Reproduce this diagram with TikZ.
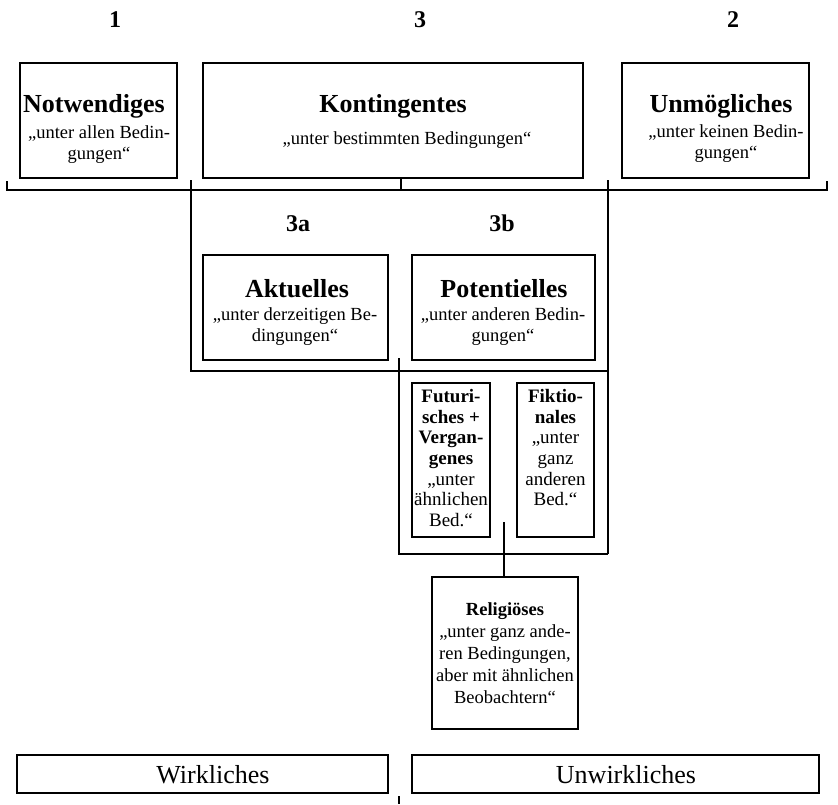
\documentclass[tikz,border=0pt]{standalone}
\usepackage{fontspec}
\setmainfont{Liberation Serif}
\begin{document}
\begin{tikzpicture}[x=1pt,y=-1pt,
  box/.style={draw,line width=1.2pt,inner sep=0pt},
  brk/.style={line width=1.5pt},
  ttl/.style={font=\bfseries\fontsize{26}{30}\selectfont,inner sep=0pt,anchor=base},
  num/.style={font=\bfseries\fontsize{24}{28}\selectfont,inner sep=0pt,anchor=base},
  sub/.style={font=\fontsize{18.5}{21}\selectfont,inner sep=0pt,align=center,anchor=north},
  sml/.style={font=\fontsize{19}{20.7}\selectfont,inner sep=0pt,align=center,anchor=north},
  big/.style={font=\fontsize{26}{30}\selectfont,inner sep=0pt,anchor=base}]
\useasboundingbox (0,0) rectangle (838,804);
% top labels
\node[num] (l1) at (115,27) {1};
\node[num] (l3) at (420,27) {3};
\node[num] (l2) at (733,27) {2};
% row 1
\node[box,minimum width=157pt,minimum height=115pt] (bNot) at (98.5,120.5) {};
\node[box,minimum width=380pt,minimum height=115pt] (bKon) at (393,120.5) {};
\node[box,minimum width=187pt,minimum height=115pt] (bUnm) at (715.5,120.5) {};
\node[ttl] (tNot) at (94,112) {Notwendiges};
\node[sub] (sNot) at (99,125) {„unter allen Bedin-\\gungen“};
\node[ttl] (tKon) at (393,112) {Kontingentes};
\node[sub] (sKon) at (407,131) {„unter bestimmten Bedingungen“};
\node[ttl] (tUnm) at (721,112) {Unmögliches};
\node[sub] (sUnm) at (726,124) {„unter keinen Bedin-\\gungen“};
% main bracket
\coordinate (mLt) at (7,181);
\coordinate (mLb) at (7,190);
\coordinate (mRb) at (827,190);
\coordinate (mRt) at (827,181);
\draw[brk] (mLt) -- (mLb) -- (mRb) -- (mRt);
\coordinate (kJ) at (401,190);
\draw[brk] (bKon.south -| kJ) -- (kJ);
% frame 3
\coordinate (f3tl) at (191,180);
\coordinate (f3bl) at (191,371);
\coordinate (f3br) at (608,371);
\coordinate (f3tr) at (608,180);
\coordinate (fStl) at (399,358);
\coordinate (fSbl) at (399,554);
\coordinate (fSbr) at (608,554);
\draw[brk] (f3tl) -- (f3bl) -- (f3br);
\draw[brk] (f3tr) -- (fSbr);
\draw[brk] (fStl) -- (fSbl) -- (fSbr);
% row 2
\node[num] (l3a) at (298,231) {3a};
\node[num] (l3b) at (502,231) {3b};
\node[box,minimum width=185pt,minimum height=105pt] (bAkt) at (295.5,307.5) {};
\node[box,minimum width=183pt,minimum height=105pt] (bPot) at (503.5,307.5) {};
\node[ttl] (tAkt) at (297,297) {Aktuelles};
\node[sub] (sAkt) at (295,307) {„unter derzeitigen Be-\\dingungen“};
\node[ttl] (tPot) at (504,297) {Potentielles};
\node[sub] (sPot) at (503,307) {„unter anderen Bedin-\\gungen“};
% row 3
\node[box,minimum width=78pt,minimum height=154pt] (bFut) at (451,460) {};
\node[box,minimum width=77pt,minimum height=154pt] (bFik) at (555.5,460) {};
\node[sml] (tFut) at (451,389) {\textbf{Futuri-}\\\textbf{sches +}\\\textbf{Vergan-}\\\textbf{genes}\\„unter\\ähnlichen\\Bed.“};
\node[sml] (tFik) at (555.5,389) {\textbf{Fiktio-}\\\textbf{nales}\\„unter\\ganz\\anderen\\Bed.“};
% religioeses
\node[box,minimum width=146pt,minimum height=152pt,align=center,font=\fontsize{18.5}{22}\selectfont] (bRel) at (505,653) {\textbf{Religiöses}\\„unter ganz ande-\\ren Bedingungen,\\aber mit ähnlichen\\Beobachtern“};
\coordinate (rTop) at (504,522);
\draw[brk] (rTop) -- (rTop |- bRel.north);
% bottom
\node[box,minimum width=371pt,minimum height=38pt] (bWir) at (202.5,774) {};
\node[big] (tWir) at (213,783) {Wirkliches};
\node[box,minimum width=407pt,minimum height=38pt] (bUnw) at (615.5,774) {};
\node[big] (tUnw) at (626,783) {Unwirkliches};
\coordinate (tk1) at (399,796);
\coordinate (tk2) at (399,804);
\draw[brk] (tk1) -- (tk2);
\end{tikzpicture}
\end{document}
